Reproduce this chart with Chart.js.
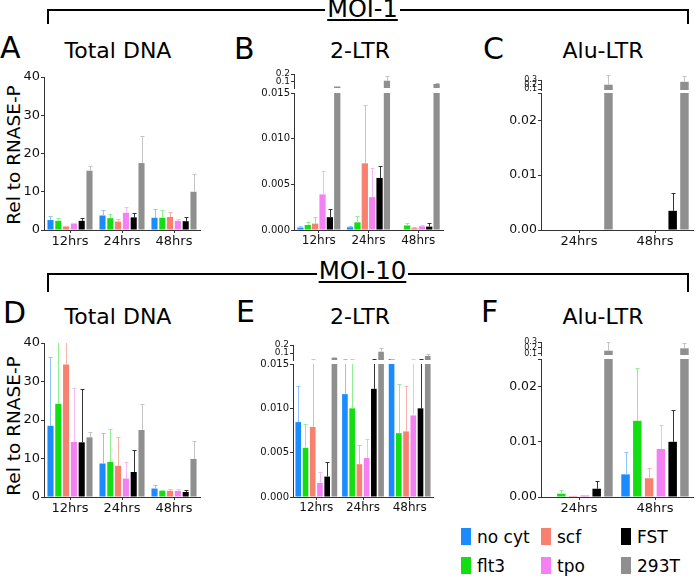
<!DOCTYPE html>
<html>
<head>
<meta charset="utf-8">
<script src="https://cdn.jsdelivr.net/npm/chart.js@4"></script>
<style>
body { margin: 0; background: #fff; }
#fig { position: relative; width: 696px; height: 579px; overflow: hidden; font-family: "DejaVu Sans", sans-serif; color: #000; }
#fig canvas { position: absolute; }
.t { position: absolute; line-height: 1; white-space: nowrap; }
.box { position: absolute; background: #000; }
</style>
</head>
<body>
<div id="fig"></div>
<script>
// categories and groups
var hours3 = ['12hrs', '24hrs', '48hrs'];
var hours2 = ['24hrs', '48hrs'];
var groups = ['no cyt', 'flt3', 'scf', 'tpo', 'FST', '293T'];

// MOI-1 (rows follow groups)
var totalDna1 = [[2.6, 3.8, 3.2], [2.4, 3.1, 3.2], [0.9, 2.2, 3.4], [1.7, 4.5, 2.4], [2.4, 3.3, 2.3], [15.5, 17.5, 10.0]];
var totalDna1Sd = [[1.1, 1.4, 2.2], [0.7, 1.0, 1.9], [0.1, 0.6, 1.3], [0.2, 1.6, 0.5], [0.8, 1.1, 1.1], [1.3, 7.0, 4.6]];
var ltr1 = [[0.00026, 0.0003, 0], [0.00055, 0.00084, 0.0005], [0.0007, 0.0073, 0.0002], [0.0039, 0.0036, 0.0004], [0.0014, 0.0057, 0.00037], [0.035, 0.111, 0.068]];
var ltr1Sd = [[0.00018, 0.00014, 0], [0.00035, 0.00066, 0.0003], [0.0007, 0.0064, 0.0001], [0.0026, 0.0032, 0.00012], [0.0009, 0.0013, 0.0004], [0.013, 0.062, 0.012]];
var alu1 = [[0, 0], [0, 0], [0, 0], [0, 0], [0, 0.0035], [0.197, 0.26]];
var alu1Sd = [[0, 0], [0, 0], [0, 0], [0, 0], [0, 0.0033], [0.21, 0.12]];

// MOI-10
var totalDna10 = [[18.5, 8.7, 2.2], [24.2, 9.1, 1.6], [34.4, 8.1, 1.6], [14.3, 4.8, 1.6], [14.2, 6.5, 1.3], [15.5, 17.4, 9.9]];
var totalDna10Sd = [[17.8, 7.8, 0.8], [20, 8.6, 0.1], [15, 7.6, 0.4], [14, 4.3, 0.4], [13.8, 5.8, 0.4], [1.3, 6.7, 4.6]];
var ltr10 = [[0.00845, 0.0116, 0.027], [0.00555, 0.0100, 0.0072], [0.0079, 0.0037, 0.0074], [0.0016, 0.0044, 0.0092], [0.0023, 0.0122, 0.0100], [0.043, 0.117, 0.064]];
var ltr10Sd = [[0.00405, 0.0154, 0.003], [0.00265, 0.017, 0.0056], [0.0191, 0.0022, 0.0051], [0.0012, 0.0021, 0.0178], [0.0017, 0.0148, 0.017], [0.003, 0.043, 0.025]];
var alu10 = [[0, 0.0041], [0.0006, 0.0138], [0.0002, 0.0034], [0.0003, 0.0087], [0.0015, 0.0100], [0.153, 0.193]];
var alu10Sd = [[0, 0.004], [0.0007, 0.0096], [0, 0.0018], [0.0001, 0.0043], [0.0014, 0.0058], [0.147, 0.085]];

// tick values
var dnaTicks = [0, 10, 20, 30, 40];
var ltrTicks = [0, 0.005, 0.010, 0.015];
var ltrTopTicks = [0.1, 0.2];
var aluTicks = [0, 0.01, 0.02, 0.025];
var aluTopTicks = [0.1, 0.2, 0.3];

var barColors = ['#1a8cff', '#12df12', '#f8806f', '#f381f3', '#000000', '#8f8f8f'];
var errColors = ['#8ec5ff', '#8ef08e', '#f9b3aa', '#f7b9f7', '#333333', '#c4c4c4'];
var FONT = '"DejaVu Sans", sans-serif';

var fig = document.getElementById('fig');

// upward error bars, clipped to the plot (upper segments may overflow on top)
var errorBars = {
    id: 'errorBars',
    afterDatasetsDraw: function(chart, args, opts) {
        var ctx = chart.ctx, a = chart.chartArea, y = chart.scales.y;
        ctx.save();
        ctx.beginPath();
        var top = opts.upper ? 0 : a.top;
        ctx.rect(a.left, top, a.right - a.left, a.bottom - top);
        ctx.clip();
        ctx.lineWidth = 1;
        chart.data.datasets.forEach(function(ds, i) {
            var meta = chart.getDatasetMeta(i);
            meta.data.forEach(function(bar, j) {
                var v = ds.data[j], e = ds.err[j];
                if (v == null || !e) return;
                var x = Math.round(bar.x) + 0.5;
                var y0 = y.getPixelForValue(v), y1 = Math.round(y.getPixelForValue(v + e)) + 0.5;
                ctx.strokeStyle = ds.errColor;
                ctx.beginPath();
                ctx.moveTo(x, y0);
                ctx.lineTo(x, y1);
                ctx.moveTo(x - 2, y1);
                ctx.lineTo(x + 2, y1);
                ctx.stroke();
            });
        });
        ctx.restore();
    }
};

function drawChart(o) {
    var padTop = 10, padRight = 6;
    var padBottom = o.upper ? 8 : 0;
    var xH = o.upper ? 0 : 22;
    var w = o.axisW + (o.right - o.left) + padRight;
    var h = padTop + (o.bottom - o.top) + xH + padBottom;
    var cv = document.createElement('canvas');
    cv.width = w;
    cv.height = h;
    cv.style.left = (o.left - o.axisW) + 'px';
    cv.style.top = (o.top - padTop) + 'px';
    cv.style.width = w + 'px';
    cv.style.height = h + 'px';
    fig.appendChild(cv);

    new Chart(cv, {
        type: 'bar',
        data: {
            labels: o.labels,
            datasets: groups.map(function(g, i) {
                return {
                    label: g,
                    data: o.values[i],
                    err: o.sd[i],
                    errColor: errColors[i],
                    backgroundColor: barColors[i],
                    borderWidth: 0,
                    categoryPercentage: o.cat,
                    barPercentage: o.bar
                };
            })
        },
        options: {
            responsive: false,
            animation: false,
            layout: { padding: { top: padTop, right: padRight, bottom: padBottom, left: 0 } },
            plugins: {
                legend: { display: false },
                tooltip: { enabled: false },
                errorBars: { upper: !!o.upper }
            },
            scales: {
                x: {
                    display: !o.upper,
                    offset: true,
                    grid: { offset: false, drawOnChartArea: false, color: '#333', tickLength: 3 },
                    border: { color: '#333' },
                    ticks: { color: '#111', font: { family: FONT, size: o.xFont }, padding: 1, maxRotation: 0 },
                    afterFit: function(s) { s.height = xH; }
                },
                y: {
                    min: o.min,
                    max: o.max,
                    afterBuildTicks: function(s) {
                        s.ticks = o.ticks.map(function(v) { return { value: v }; });
                    },
                    afterFit: function(s) { s.width = o.axisW; },
                    grid: { drawOnChartArea: false, color: '#333', tickLength: 3 },
                    border: { color: '#333' },
                    ticks: { color: '#111', font: { family: FONT, size: o.yFont }, padding: 1,
                        autoSkip: false, callback: o.fmt }
                }
            }
        },
        plugins: [errorBars]
    });
}

function addText(str, x, base, size, center) {
    var d = document.createElement('div');
    d.className = 't';
    d.textContent = str;
    d.style.fontSize = size + 'px';
    d.style.top = (base - 0.846 * size) + 'px';
    if (center) {
        d.style.left = (x - 150) + 'px';
        d.style.width = '300px';
        d.style.textAlign = 'center';
    } else {
        d.style.left = x + 'px';
    }
    fig.appendChild(d);
    return d;
}

function box(x, y, w, h, color) {
    var d = document.createElement('div');
    d.className = 'box';
    d.style.left = x + 'px';
    d.style.top = y + 'px';
    d.style.width = w + 'px';
    d.style.height = h + 'px';
    if (color) d.style.background = color;
    fig.appendChild(d);
}

function header(str, y, yEnd, base, size) {
    box(47, y, 642, 2);
    box(47, y, 2, yEnd - y);
    box(687, y, 2, yEnd - y);
    var d = addText('', 362.5, base, size, true);
    var s = document.createElement('span');
    s.textContent = str;
    s.style.background = '#fff';
    s.style.padding = '0 2px';
    s.style.textDecoration = 'underline';
    d.appendChild(s);
}

function yTitle(cx, cy) {
    var d = document.createElement('div');
    d.className = 't';
    d.textContent = 'Rel to RNASE-P';
    d.style.fontSize = '18.5px';
    d.style.lineHeight = '20px';
    d.style.width = '200px';
    d.style.textAlign = 'center';
    d.style.left = (cx - 100) + 'px';
    d.style.top = (cy - 10) + 'px';
    d.style.transform = 'rotate(-90deg)';
    fig.appendChild(d);
}

var intFmt = function(v) { return String(v); };
var fmt3 = function(v) { return v.toFixed(3); };
var fmt1 = function(v) { return v.toFixed(1); };
var fmt2 = function(v) { return v === 0.025 ? '' : v.toFixed(2); };

// headers
header('MOI-1', 9, 24, 17.5, 24);
header('MOI-10', 273, 292, 280, 24.5);

// panel letters and titles
addText('A', 0, 58.5, 30);
addText('B', 234, 59, 30);
addText('C', 483, 59, 30);
addText('D', 3, 323, 30);
addText('E', 236, 322, 30);
addText('F', 481, 322, 30);
addText('Total DNA', 118, 59, 22, true);
addText('2-LTR', 360, 59, 22, true);
addText('Alu-LTR', 603, 59, 22, true);
addText('Total DNA', 118, 325, 22, true);
addText('2-LTR', 360, 325, 22, true);
addText('Alu-LTR', 603, 325, 22, true);
yTitle(14, 155);
yTitle(14, 426);

// A
drawChart({ labels: hours3, values: totalDna1, sd: totalDna1Sd, left: 44, right: 200, top: 77, bottom: 230,
    min: 0, max: 40, ticks: dnaTicks, fmt: intFmt, yFont: 13, xFont: 13, axisW: 44, cat: 0.9, bar: 0.78 });
// B
drawChart({ labels: hours3, values: ltr1, sd: ltr1Sd, left: 294, right: 443, top: 93, bottom: 230,
    min: 0, max: 0.015, ticks: ltrTicks, fmt: fmt3, yFont: 10, xFont: 12, axisW: 40, cat: 0.89, bar: 0.85 });
drawChart({ upper: true, labels: hours3, values: ltr1, sd: ltr1Sd, left: 294, right: 443, top: 74, bottom: 88,
    min: 0.015, max: 0.2, ticks: ltrTopTicks, fmt: fmt1, yFont: 9, xFont: 12, axisW: 40, cat: 0.89, bar: 0.85 });
// C
drawChart({ labels: hours2, values: alu1, sd: alu1Sd, left: 541, right: 693, top: 93, bottom: 230,
    min: 0, max: 0.025, ticks: aluTicks, fmt: fmt2, yFont: 12.5, xFont: 13, axisW: 40, cat: 0.93, bar: 0.72 });
drawChart({ upper: true, labels: hours2, values: alu1, sd: alu1Sd, left: 541, right: 693, top: 80, bottom: 90,
    min: 0.08, max: 0.3, ticks: aluTopTicks, fmt: fmt1, yFont: 8, xFont: 13, axisW: 40, cat: 0.93, bar: 0.72 });
// D
drawChart({ labels: hours3, values: totalDna10, sd: totalDna10Sd, left: 44, right: 200, top: 343, bottom: 497,
    min: 0, max: 40, ticks: dnaTicks, fmt: intFmt, yFont: 13, xFont: 13, axisW: 44, cat: 0.9, bar: 0.78 });
// E
drawChart({ labels: hours3, values: ltr10, sd: ltr10Sd, left: 293, right: 433, top: 364, bottom: 497,
    min: 0, max: 0.015, ticks: ltrTicks, fmt: fmt3, yFont: 10, xFont: 12, axisW: 40, cat: 0.93, bar: 0.78 });
drawChart({ upper: true, labels: hours3, values: ltr10, sd: ltr10Sd, left: 293, right: 433, top: 345, bottom: 360,
    min: 0.015, max: 0.2, ticks: ltrTopTicks, fmt: fmt1, yFont: 9, xFont: 12, axisW: 40, cat: 0.93, bar: 0.78 });
// F
drawChart({ labels: hours2, values: alu10, sd: alu10Sd, left: 541, right: 693, top: 359, bottom: 497,
    min: 0, max: 0.025, ticks: aluTicks, fmt: fmt2, yFont: 12.5, xFont: 13, axisW: 40, cat: 0.93, bar: 0.72 });
drawChart({ upper: true, labels: hours2, values: alu10, sd: alu10Sd, left: 541, right: 693, top: 342, bottom: 355,
    min: 0.08, max: 0.3, ticks: aluTopTicks, fmt: fmt1, yFont: 8, xFont: 13, axisW: 40, cat: 0.93, bar: 0.72 });

// legend
var legX = [461, 541, 621, 461, 541, 621];
var legY = [528, 528, 528, 557, 557, 557];
var legOrder = [0, 2, 4, 1, 3, 5];
legOrder.forEach(function(g, k) {
    box(legX[k], legY[k], 10, 17, barColors[g]);
    addText(groups[g], legX[k] + 16, legY[k] + 15, 17);
});
</script>
</body>
</html>
